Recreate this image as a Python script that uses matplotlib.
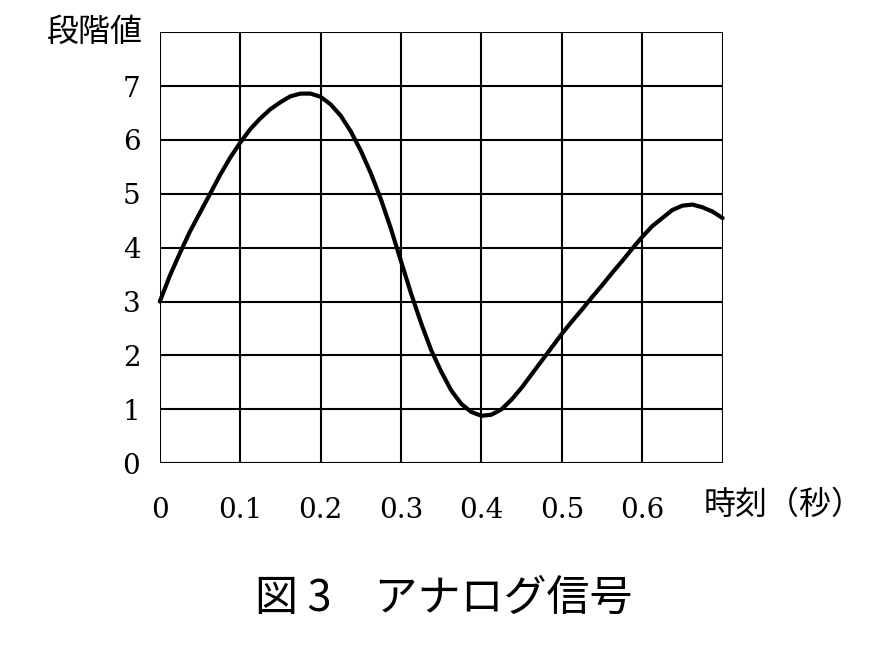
import matplotlib.pyplot as plt
import numpy as np

# values
t = [0, 0.0125, 0.025, 0.0375, 0.05, 0.0625, 0.075, 0.0875, 0.1, 0.1125,
     0.125, 0.1375, 0.15, 0.1625, 0.175, 0.1875, 0.2, 0.2125, 0.225, 0.2375,
     0.25, 0.2625, 0.275, 0.2875, 0.3, 0.3125, 0.325, 0.3375, 0.35, 0.3625,
     0.375, 0.3875, 0.4, 0.4125, 0.425, 0.4375, 0.45, 0.4625, 0.475, 0.4875,
     0.5, 0.5125, 0.525, 0.5375, 0.55, 0.5625, 0.575, 0.5875, 0.6, 0.6125,
     0.625, 0.6375, 0.65, 0.6625, 0.675, 0.6875, 0.7]
level = [3.0, 3.48, 3.9, 4.3, 4.65, 5.0, 5.35, 5.67, 5.95, 6.2,
         6.4, 6.57, 6.7, 6.81, 6.86, 6.86, 6.8, 6.66, 6.45, 6.16,
         5.8, 5.38, 4.9, 4.35, 3.75, 3.15, 2.6, 2.1, 1.7, 1.35,
         1.1, 0.95, 0.88, 0.9, 1.0, 1.18, 1.4, 1.65, 1.9, 2.15,
         2.4, 2.63, 2.85, 3.08, 3.3, 3.53, 3.75, 3.98, 4.2, 4.4,
         4.55, 4.7, 4.78, 4.8, 4.75, 4.67, 4.55]
xticks = [0, 0.1, 0.2, 0.3, 0.4, 0.5, 0.6]
xticklabels = ["0", "0.1", "0.2", "0.3", "0.4", "0.5", "0.6"]
yticks = [0, 1, 2, 3, 4, 5, 6, 7]

jp = "Noto Sans CJK JP"
num = "DejaVu Serif"

fig = plt.figure(figsize=(8.78, 6.57), dpi=100)
ax = fig.add_axes([0.182, 0.295, 0.641, 0.656])
ax.set_xlim(0, 0.7)
ax.set_ylim(0, 8)

for gx in np.arange(0, 0.71, 0.1):
    ax.axvline(gx, color="black", lw=1.5)
for gy in range(0, 9):
    ax.axhline(gy, color="black", lw=1.5)
for s in ax.spines.values():
    s.set_visible(False)

ax.plot(t, level, color="black", lw=3, solid_capstyle="round",
        solid_joinstyle="round", clip_on=False)

ax.set_xticks(xticks)
ax.set_xticklabels(xticklabels, fontfamily=num, fontsize=20)
ax.set_yticks(yticks)
ax.set_yticklabels([str(v) for v in yticks], fontfamily=num, fontsize=20)
ax.tick_params(axis="x", length=0, pad=24)
ax.tick_params(axis="y", length=0, pad=14)

fig.text(0.108, 0.951, "段階値", fontfamily=jp, fontsize=23, ha="center", va="center")
fig.text(0.893, 0.232, "時刻（秒）", fontfamily=jp, fontsize=23, ha="center", va="center")
fig.text(0.505, 0.088, "図 3　アナログ信号", fontfamily=jp, fontsize=31, ha="center", va="center")

fig.savefig("out.png", dpi=100)
